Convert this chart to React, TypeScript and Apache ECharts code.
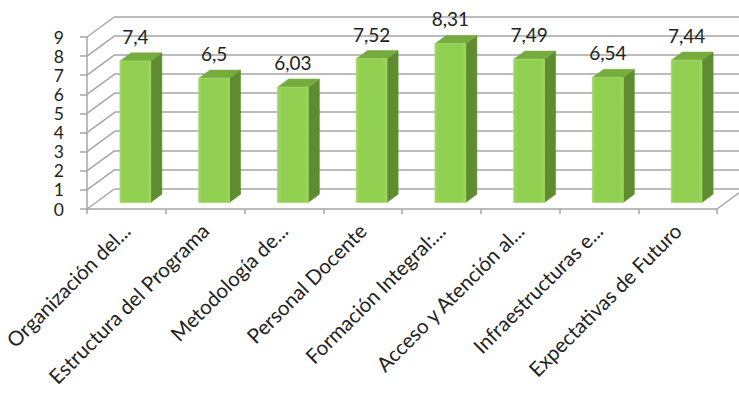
import React, { useEffect, useRef } from "react";
import * as echarts from "echarts";

const categories = [
  "Organización del...",
  "Estructura del Programa",
  "Metodología de...",
  "Personal Docente",
  "Formación Integral:...",
  "Acceso y Atención al...",
  "Infraestructuras e...",
  "Expectativas de Futuro",
];
const values = [7.4, 6.5, 6.03, 7.52, 8.31, 7.49, 6.54, 7.44];
const valueLabels = ["7,4", "6,5", "6,03", "7,52", "8,31", "7,49", "6,54", "7,44"];
const yTicks = [0, 1, 2, 3, 4, 5, 6, 7, 8, 9];

const GRAY = "#a6a6a6";
const TEXT = "#222222";
const FONT = "Lato";
const DX = 28;
const DY = -20.5;
const F0 = 0.32;
const F1 = 0.72;
const BAR_FRAC = 0.39;

export default function App() {
  const ref = useRef<HTMLDivElement>(null);
  useEffect(() => {
    if (!ref.current) return;
    const chart = echarts.init(ref.current, null, { renderer: "svg" });
    const option: any = {
      animation: false,
      backgroundColor: "#ffffff",
      grid: [
        { left: 87, top: 37, width: 630, height: 172, outerBoundsMode: "none", containLabel: false },
        { left: 87 + DX, top: 37 + DY, width: 630, height: 172, outerBoundsMode: "none", containLabel: false },
      ],
      xAxis: [
        {
          type: "category",
          gridIndex: 0,
          data: categories,
          axisLine: { lineStyle: { color: GRAY, width: 1.5 } },
          axisTick: { show: true, length: 5, lineStyle: { color: GRAY, width: 1.5 } },
          axisLabel: {
            rotate: 45,
            margin: 18,
            interval: 0,
            fontFamily: FONT,
            fontSize: 20.5,
            color: TEXT,
          },
        },
        { type: "category", gridIndex: 1, data: categories, show: false },
      ],
      yAxis: [
        {
          type: "value",
          gridIndex: 0,
          min: 0,
          max: 9,
          interval: 1,
          axisLine: { show: true, lineStyle: { color: GRAY, width: 1.5 } },
          axisTick: { show: true, length: 7, lineStyle: { color: GRAY, width: 1.5 } },
          splitLine: { show: false },
          axisLabel: {
            margin: 23,
            fontFamily: FONT,
            fontSize: 17.5,
            lineHeight: 16,
            color: TEXT,
          },
        },
        {
          type: "value",
          gridIndex: 1,
          min: 0,
          max: 9,
          interval: 1,
          axisLine: { show: false },
          axisTick: { show: false },
          axisLabel: { show: false },
          splitLine: { show: true, lineStyle: { color: GRAY, width: 1.5 } },
        },
      ],
      series: [
        {
          type: "custom",
          xAxisIndex: 0,
          yAxisIndex: 0,
          clip: false,
          z: 1,
          silent: true,
          encode: { x: 0, y: 1 },
          data: yTicks.map((v) => [0, v]),
          renderItem: (params: any, api: any) => {
            const v = api.value(1);
            const c = api.coord([0, v]);
            const band = api.size([1, 0])[0];
            const x0 = c[0] - band / 2;
            const children: any[] = [
              {
                type: "line",
                shape: { x1: x0, y1: c[1], x2: x0 + DX, y2: c[1] + DY },
                style: { stroke: GRAY, lineWidth: 1.5 },
              },
            ];
            if (v === 0) {
              const cl = api.coord([categories.length - 1, 0]);
              const xr = cl[0] + band / 2;
              children.push({
                type: "line",
                shape: { x1: xr, y1: cl[1], x2: xr + DX, y2: cl[1] + DY },
                style: { stroke: GRAY, lineWidth: 1.5 },
              });
            }
            return { type: "group", children };
          },
        },
        {
          type: "custom",
          xAxisIndex: 0,
          yAxisIndex: 0,
          clip: false,
          z: 5,
          encode: { x: 0, y: 1 },
          data: values.map((v, i) => [i, v]),
          renderItem: (params: any, api: any) => {
            const i = api.value(0);
            const v = api.value(1);
            const c0 = api.coord([i, 0]);
            const c1 = api.coord([i, v]);
            const band = api.size([1, 0])[0];
            const w = band * BAR_FRAC;
            const xl = c0[0] - w / 2 + DX * F0;
            const xr = xl + w;
            const bot = c0[1] + DY * F0;
            const top = c1[1] + DY * F0;
            const ox = DX * (F1 - F0);
            const oy = DY * (F1 - F0);
            const label = valueLabels[params.dataIndex];
            return {
              type: "group",
              children: [
                {
                  type: "polygon",
                  shape: { points: [[xr, top], [xr + ox, top + oy], [xr + ox, bot + oy], [xr, bot]] },
                  style: { fill: "#5f8c30", stroke: "#5f8c30", lineWidth: 0.5 },
                },
                {
                  type: "polygon",
                  shape: { points: [[xl, top], [xl + ox, top + oy], [xr + ox, top + oy], [xr, top]] },
                  style: { fill: "#76ac3e", stroke: "#76ac3e", lineWidth: 0.5 },
                },
                {
                  type: "rect",
                  shape: { x: xl, y: top, width: w, height: bot - top },
                  style: {
                    fill: {
                      type: "linear",
                      x: 0,
                      y: 0,
                      x2: 1,
                      y2: 0,
                      colorStops: [
                        { offset: 0, color: "#9bd65c" },
                        { offset: 0.15, color: "#90cf4f" },
                        { offset: 0.85, color: "#90cf4f" },
                        { offset: 1, color: "#9bd65c" },
                      ],
                    },
                    stroke: "#a3da6a",
                    lineWidth: 0.8,
                  },
                },
                {
                  type: "text",
                  style: {
                    text: label,
                    x: xl + w / 2,
                    y: top + oy - 7,
                    align: "center",
                    textAlign: "center",
                    verticalAlign: "bottom",
                    textVerticalAlign: "bottom",
                    fontFamily: FONT,
                    fontSize: 19,
                    fill: TEXT,
                  },
                },
              ],
            };
          },
        },
      ],
    };
    chart.setOption(option);
    return () => chart.dispose();
  }, []);
  return (
    <div
      ref={ref}
      style={{ position: "fixed", left: 0, top: 0, width: 739, height: 409 }}
    />
  );
}
